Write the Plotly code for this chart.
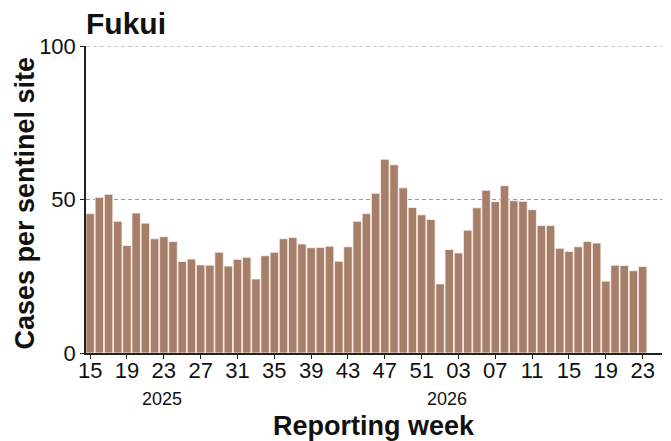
import plotly.graph_objects as go

# Semanas 2025-15 .. 2026-23
weeks_2025 = list(range(15, 53))
weeks_2026 = list(range(1, 24))
week_labels = ["%02d" % w for w in weeks_2025 + weeks_2026]

cases = [
    45.4, 50.7, 51.7, 42.9, 35.0, 45.6, 42.3, 37.2, 37.9, 36.3,
    29.8, 30.6, 28.7, 28.6, 32.8, 28.3, 30.5, 31.2, 24.1, 31.7,
    32.8, 37.2, 37.6, 35.5, 34.3, 34.4, 34.8, 29.9, 34.6, 42.9,
    45.4, 52.0, 63.1, 61.3, 53.8, 47.4, 45.0, 43.5,
    22.5, 33.7, 32.6, 40.0, 47.3, 53.0, 49.3, 54.5, 49.6, 49.4,
    46.7, 41.5, 41.5, 34.1, 33.1, 34.6, 36.3, 35.8, 23.4, 28.6,
    28.5, 26.8, 28.2,
]

years = ["2025", "2026"]
year_pos = [7.8, 38.8]
y_ticks = [0, 50, 100]

idx = list(range(len(cases)))
tick_idx = idx[::4]
tick_txt = week_labels[::4]

BAR_COLOR = "#a67f6b"
FONT = "Liberation Sans, Arial, sans-serif"

fig = go.Figure()
fig.add_trace(go.Bar(
    x=idx, y=cases,
    marker=dict(color=BAR_COLOR, line=dict(color="rgba(255,240,235,0.8)", width=1)),
    width=0.92,
    hovertemplate="Week %{customdata}: %{y:.1f}<extra></extra>",
    customdata=week_labels,
))

# líneas de referencia discontinuas (la de arriba coincide con el borde)
for yv in y_ticks[1:]:
    fig.add_hline(y=yv, line=dict(color="#999", width=1, dash="4px,3px"), layer="below")

# etiquetas de año bajo las semanas
for yr, xp in zip(years, year_pos):
    fig.add_annotation(x=xp, y=-0.15, xref="x", yref="paper", text=yr,
                       showarrow=False, font=dict(size=18, color="#111"),
                       yanchor="middle")

# títulos de ejes como anotaciones para no mover el área del gráfico
fig.add_annotation(x=0.5, y=-0.238, xref="paper", yref="paper",
                   text="<b>Reporting week</b>", showarrow=False,
                   font=dict(size=27, color="#111"), yanchor="middle")
fig.add_annotation(x=-0.106, y=0.49, xref="paper", yref="paper",
                   text="<b>Cases per sentinel site</b>", showarrow=False,
                   textangle=-90, font=dict(size=27, color="#111"),
                   xanchor="center", yanchor="middle")

fig.update_layout(
    width=671, height=441,
    margin=dict(l=86, r=9, t=46, b=88, autoexpand=False),
    paper_bgcolor="white", plot_bgcolor="white",
    font=dict(family=FONT, color="#111"),
    showlegend=False,
    title=dict(text="<b>Fukui</b>", x=86/671, xanchor="left", y=0.946, yanchor="middle",
               font=dict(size=30, color="#111")),
    xaxis=dict(
        range=[-0.45, 62.1],
        tickmode="array", tickvals=tick_idx, ticktext=tick_txt,
        ticks="outside", ticklen=4, tickcolor="#222",
        showline=True, linecolor="#222", linewidth=1.5,
        showgrid=False, zeroline=False,
        tickfont=dict(size=22), ticklabelstandoff=-7,
        automargin=False,
    ),
    yaxis=dict(
        range=[0, 100], tickvals=y_ticks,
        ticks="outside", ticklen=4, tickcolor="#222",
        showline=True, linecolor="#222", linewidth=1.5,
        showgrid=False, zeroline=False,
        tickfont=dict(size=22),
        automargin=False,
    ),
)

# quitar el margen por defecto del body para que la figura ocupe la ventana
fig.write_html("out.html", config={"displayModeBar": False},
               post_script="document.body.style.margin='0';")
